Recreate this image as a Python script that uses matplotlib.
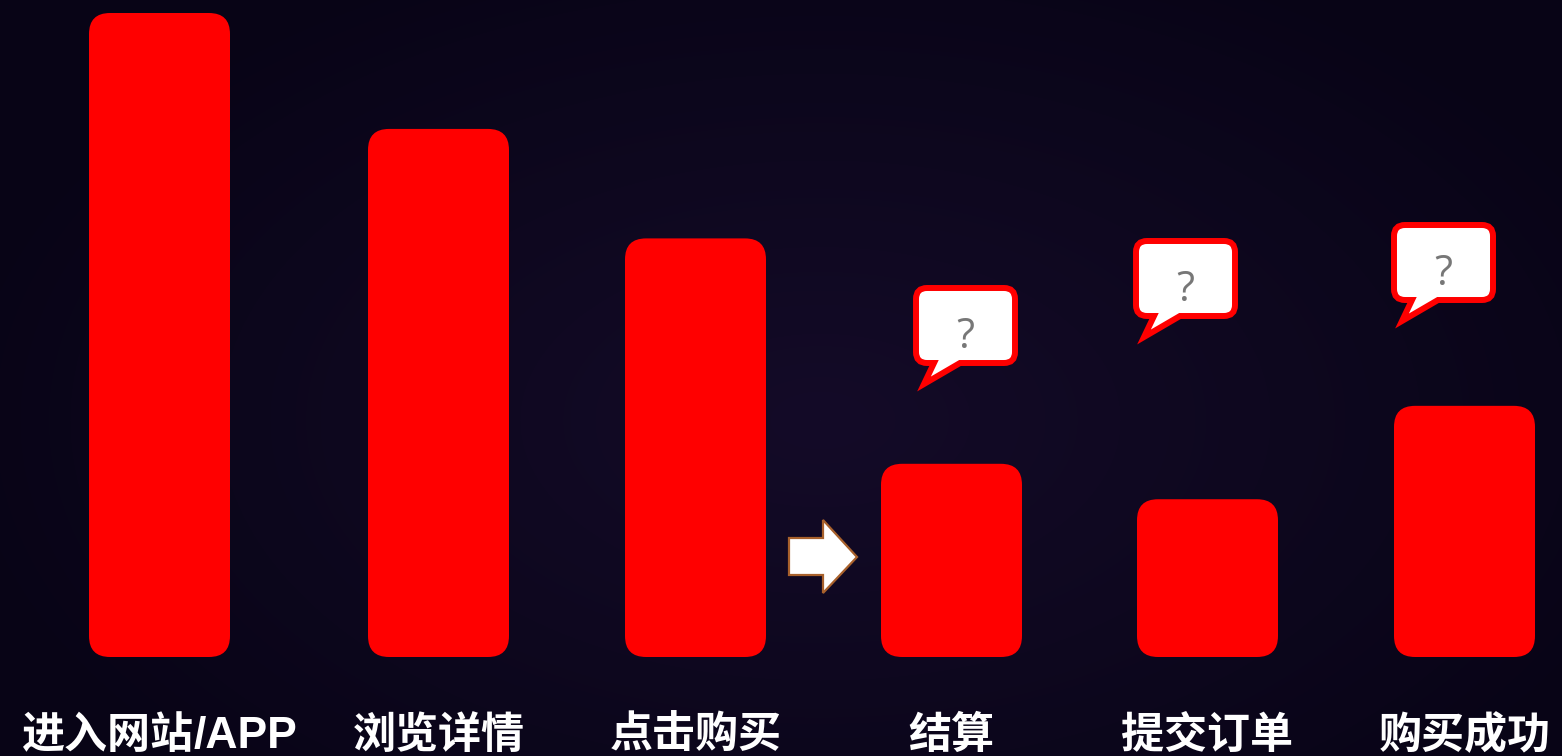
import re
import numpy as np
import matplotlib
matplotlib.use("Agg")
import matplotlib.pyplot as plt
from matplotlib.patches import FancyBboxPatch, PathPatch, Polygon
from matplotlib.path import Path
from matplotlib.offsetbox import TextArea, HPacker, AnnotationBbox

plt.rcParams['font.family'] = ['Noto Sans CJK SC', 'DejaVu Sans']

# funnel stages and relative volume (first stage = 100)
stages = ['进入网站/APP', '浏览详情', '点击购买', '结算', '提交订单', '购买成功']
volume = [100, 82, 65, 30, 24.5, 39]

# layout (figure pixels)
W, H = 1562, 756
bar_x = [159.5, 438.5, 695.5, 951.5, 1207.5, 1464.5]
bar_w = 141
base_px = 657          # pixel row of the zero line
px_per_unit = 6.44
bubble_at = [(916, 288), (1136, 241), (1394, 225)]

fig = plt.figure(figsize=(W / 100, H / 100), dpi=100)

# dark radial background
bg = fig.add_axes([0, 0, 1, 1])
yy, xx = np.mgrid[0:H, 0:W]
r = np.sqrt(((xx - 820) / 900.0) ** 2 + ((yy - 420) / 520.0) ** 2)
t = np.clip(r, 0, 1)[..., None]
inner = np.array([20, 11, 40]) / 255.0
outer = np.array([8, 4, 22]) / 255.0
bg.imshow(inner * (1 - t) + outer * t, extent=[0, W, H, 0], aspect='auto')
bg.set_xlim(0, W)
bg.set_ylim(H, 0)
bg.axis('off')

# bars, in value units vertically
ax = fig.add_axes([0, 0, 1, 1], facecolor='none')
ax.set_xlim(0, W)
ax.set_ylim(-(H - base_px) / px_per_unit, base_px / px_per_unit)
ax.axis('off')
for x, v in zip(bar_x, volume):
    ax.add_patch(FancyBboxPatch((x - bar_w / 2, 0), bar_w, v,
                                boxstyle='round,pad=0,rounding_size=21',
                                mutation_aspect=1 / px_per_unit,
                                facecolor='#ff0000', edgecolor='none'))

# overlay in pixel coordinates for labels, callouts and arrow
ov = fig.add_axes([0, 0, 1, 1], facecolor='none')
ov.set_xlim(0, W)
ov.set_ylim(H, 0)
ov.axis('off')

cjk_style = dict(color='white', fontsize=31, fontweight='bold',
                 family=['Noto Sans CJK SC', 'DejaVu Sans'])
latin_style = dict(color='white', fontsize=32, fontweight='bold',
                   family=['Liberation Sans', 'DejaVu Sans'])


def stage_label(x, y, s):
    # latin runs get their own font, packed on a shared baseline
    parts = []
    for run in re.findall(r'[\x00-\x7f]+|[^\x00-\x7f]+', s):
        style = latin_style if run[0].isascii() else cjk_style
        parts.append(TextArea(run, textprops=style))
    box = HPacker(children=parts, align='baseline', pad=0, sep=0)
    ov.add_artist(AnnotationBbox(box, (x, y), frameon=False,
                                 box_alignment=(0.5, 0.5), pad=0))


for x, name in zip(bar_x, stages):
    stage_label(x, 735, name)


def bubble_path(l, t, w=99, h=75, rr=11):
    b = t + h
    verts = [
        (l + rr, t), (l + w - rr, t), (l + w, t), (l + w, t + rr),
        (l + w, b - rr), (l + w, b), (l + w - rr, b),
        (l + 44, b), (l + 8, b + 21), (l + 18, b),
        (l + rr, b), (l, b), (l, b - rr),
        (l, t + rr), (l, t), (l + rr, t), (l + rr, t),
    ]
    codes = [Path.MOVETO, Path.LINETO, Path.CURVE3, Path.CURVE3,
             Path.LINETO, Path.CURVE3, Path.CURVE3,
             Path.LINETO, Path.LINETO, Path.LINETO,
             Path.LINETO, Path.CURVE3, Path.CURVE3,
             Path.LINETO, Path.CURVE3, Path.CURVE3, Path.CLOSEPOLY]
    return Path(verts, codes)


for l, t in bubble_at:
    ov.add_patch(PathPatch(bubble_path(l, t), facecolor='white',
                           edgecolor='#ff0000', lw=4.3, joinstyle='miter'))
    ov.text(l + 49, t + 60, '?', color='#777777', fontsize=30,
            family=['Open Sans', 'DejaVu Sans'], ha='center', va='baseline')

# block arrow leading into the checkout stage
ov.add_patch(Polygon([(789, 538), (823, 538), (823, 520), (857, 557),
                      (823, 593), (823, 575), (789, 575)], closed=True,
                     facecolor='white', edgecolor='#a8612c', lw=1.6))

fig.savefig('out.png', dpi=100)
